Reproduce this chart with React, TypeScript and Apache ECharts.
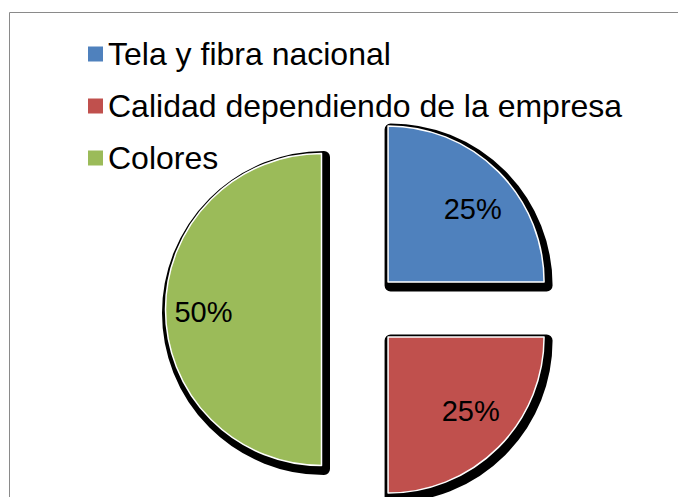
import React, { useEffect, useRef } from "react";
import * as echarts from "echarts";

const categories = ["Tela y fibra nacional", "Calidad dependiendo de la empresa", "Colores"];
const values = [25, 25, 50];
const colors = ["#4F81BD", "#C0504D", "#9BBB59"];

const FONT = "'Liberation Sans', Arial, Helvetica, sans-serif";
const CENTER = [360.5, 309.5];
const RADIUS = 156;
const OFFSET = 39;
const LABEL_SHIFT = [[4, 8], [2, -7], [-4, 2]];

export default function App() {
  const ref = useRef<HTMLDivElement>(null);
  useEffect(() => {
    if (!ref.current) return;
    const chart = echarts.init(ref.current, undefined, { renderer: "svg" });
    const mainData = categories.map((name, i) => ({
      name,
      value: values[i],
      selected: true,
      itemStyle: { color: colors[i] },
    }));
    const shadowData = categories.map((name, i) => ({
      name,
      value: values[i],
      selected: true,
    }));
    const shadowStyle = { color: "#000", borderColor: "#000", borderWidth: 12, borderJoin: "round" };
    const option: any = {
      animation: false,
      backgroundColor: "#fff",
      graphic: [
        {
          type: "rect",
          shape: { x: 9.5, y: 12.5, width: 720, height: 520 },
          style: { fill: "none", stroke: "#8a8a8a", lineWidth: 1 },
          silent: true,
          z: 0,
        },
      ],
      legend: {
        orient: "vertical",
        left: 83,
        top: 33,
        icon: "rect",
        itemWidth: 15,
        itemHeight: 15,
        itemGap: 20,
        itemStyle: { borderWidth: 0 },
        data: categories,
        textStyle: {
          fontFamily: FONT,
          fontSize: 32,
          lineHeight: 32,
          color: "#000",
        },
        selectedMode: false,
      },
      series: [
        {
          type: "pie",
          name: "main",
          z: 2,
          center: CENTER,
          radius: RADIUS,
          startAngle: 90,
          clockwise: true,
          selectedMode: "multiple",
          selectedOffset: OFFSET,
          silent: true,
          label: { show: false },
          labelLine: { show: false },
          itemStyle: { borderColor: "#fff", borderWidth: 1.5 },
          emphasis: { disabled: true },
          data: mainData,
        },
        {
          type: "pie",
          name: "shadow",
          z: 1,
          center: [CENTER[0] + 2.5, CENTER[1] + 3.5],
          radius: RADIUS,
          startAngle: 90,
          clockwise: true,
          selectedMode: "multiple",
          selectedOffset: OFFSET,
          silent: true,
          label: { show: false },
          labelLine: { show: false },
          itemStyle: shadowStyle,
          select: { itemStyle: shadowStyle },
          emphasis: { disabled: true },
          data: shadowData,
        },
        {
          type: "pie",
          name: "labels",
          z: 3,
          center: CENTER,
          radius: 222,
          startAngle: 90,
          clockwise: true,
          selectedMode: "multiple",
          selectedOffset: OFFSET,
          silent: true,
          itemStyle: { color: "rgba(0,0,0,0)", borderWidth: 0 },
          select: { itemStyle: { color: "rgba(0,0,0,0)", borderWidth: 0 } },
          emphasis: { disabled: true },
          label: {
            show: true,
            position: "inside",
            formatter: "{d}%",
            fontFamily: FONT,
            fontSize: 29,
            color: "#000",
          },
          labelLayout: (params: any) => ({
            dx: LABEL_SHIFT[params.dataIndex][0],
            dy: LABEL_SHIFT[params.dataIndex][1],
          }),
          labelLine: { show: false },
          data: shadowData,
        },
      ],
    };
    chart.setOption(option);
    return () => chart.dispose();
  }, []);
  return (
    <div
      ref={ref}
      style={{ position: "fixed", left: 0, top: 0, width: 678, height: 497 }}
    />
  );
}
